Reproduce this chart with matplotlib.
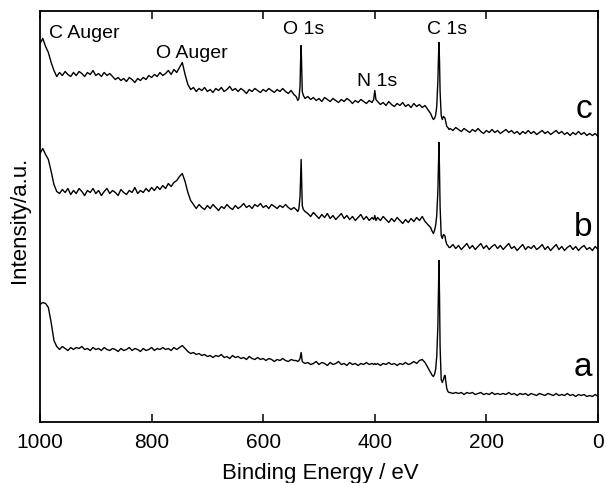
import numpy as np
import matplotlib.pyplot as plt

plt.rcParams['font.family'] = ['Liberation Sans', 'DejaVu Sans']

# binding energy grid (eV), finer around the O 1s, N 1s and C 1s lines
energy = np.concatenate([
    np.arange(1000, 544, -5),
    [541, 538, 536, 534, 533, 532, 531, 530, 528, 525],
    np.arange(520, 404, -5),
    [402, 400, 398],
    np.arange(395, 299, -5),
    [297, 295, 293, 291, 289, 287, 286, 285, 284, 283, 281, 279, 277, 275, 274, 273, 271, 269, 267],
    np.arange(265, -1, -5),
])

# intensities (a.u., already offset for stacking)
c_high = [378, 383, 375, 369, 359, 351, 345, 349, 346, 350, 347, 345, 349, 346, 350, 348,
          345, 349, 347, 351, 346, 348, 345, 349, 346, 348, 345, 342, 344, 341, 343, 340,
          344, 342, 339, 343, 341, 344, 342, 346, 344, 347, 345, 349, 346, 348, 351, 347,
          352, 349, 354, 359, 347, 337, 332, 334, 330, 333, 331, 334, 330, 332, 329, 333,
          331, 334, 330, 332, 335, 331, 333, 330, 333, 331, 328, 332, 330, 333, 331, 329,
          332, 330, 333, 331, 329, 332, 330, 333, 330, 328, 331, 327]
c_o1s = [325, 321, 323, 335, 360, 376, 352, 330, 326, 323]
c_mid = [325, 322, 324, 321, 323, 320, 324, 322, 320, 323, 321, 319, 322, 320, 323, 321,
         318, 321, 319, 322, 320, 318, 321, 319]
c_n1s = [322, 331, 322]
c_pre = [320, 317, 319, 316, 320, 317, 315, 318, 316, 319, 315, 317, 314, 318, 315, 317,
         314, 316, 312, 308]
c_c1s = [304, 302, 303, 306, 315, 340, 362, 379, 360, 330, 306, 302, 305, 304, 303, 300,
         295, 294, 292]
c_low = [293, 291, 294, 292, 290, 293, 291, 289, 292, 290, 293, 290, 288, 291, 289, 292,
         289, 291, 288, 290, 292, 289, 291, 288, 290, 287, 290, 288, 291, 288, 290, 287,
         289, 291, 288, 290, 287, 289, 291, 288, 290, 287, 289, 286, 289, 287, 290, 287,
         289, 286, 288, 286, 288, 285]

b_high = [268, 273, 267, 262, 250, 237, 230, 228, 232, 229, 233, 227, 231, 228, 233, 230,
          226, 231, 229, 233, 228, 231, 226, 230, 233, 228, 231, 229, 226, 232, 229, 227,
          231, 229, 234, 228, 231, 229, 233, 230, 234, 231, 235, 232, 236, 233, 238, 235,
          239, 241, 245, 248, 240, 229, 221, 217, 213, 217, 214, 212, 216, 213, 217, 214,
          211, 215, 213, 217, 214, 212, 216, 213, 215, 218, 214, 216, 213, 217, 215, 218,
          214, 216, 213, 217, 215, 213, 216, 214, 217, 214, 212, 214]
b_o1s = [212, 210, 213, 225, 245, 262, 238, 216, 212, 210]
b_mid = [208, 205, 209, 206, 203, 207, 204, 208, 203, 206, 202, 205, 208, 203, 206, 202,
         205, 201, 204, 207, 202, 205, 201, 204]
b_n1s = [202, 206, 201]
b_pre = [204, 201, 205, 202, 199, 203, 200, 204, 201, 198, 202, 199, 203, 200, 204, 201,
         205, 200, 197, 194]
b_c1s = [190, 188, 191, 196, 206, 230, 255, 279, 250, 215, 186, 183, 187, 186, 185, 181,
         177, 176, 174]
b_low = [174, 177, 173, 176, 172, 175, 178, 173, 176, 172, 175, 178, 173, 176, 172, 175,
         177, 173, 176, 172, 175, 178, 173, 175, 171, 174, 177, 172, 175, 173, 176, 172,
         174, 177, 172, 175, 171, 174, 177, 172, 175, 171, 174, 176, 172, 175, 171, 174,
         176, 172, 174, 171, 175, 172]

a_high = [117, 119, 118, 114, 99, 81, 75, 72, 75, 73, 71, 74, 72, 74, 73, 75,
          72, 73, 71, 74, 72, 73, 71, 74, 72, 71, 73, 72, 70, 73, 71, 72,
          74, 71, 73, 72, 70, 73, 71, 72, 74, 71, 73, 72, 74, 72, 73, 71,
          74, 72, 74, 76, 73, 70, 68, 69, 67, 68, 66, 67, 65, 66, 64, 66,
          65, 67, 64, 65, 63, 66, 64, 65, 63, 64, 62, 65, 63, 62, 64, 62,
          63, 61, 63, 62, 60, 62, 61, 63, 61, 60, 62, 61]
a_o1s = [61, 60, 61, 63, 66, 69, 64, 60, 59, 58]
a_mid = [59, 57, 58, 60, 57, 59, 58, 56, 59, 57, 58, 60, 57, 58, 56, 59,
         57, 58, 56, 58, 57, 59, 57, 58]
a_n1s = [57, 58, 57]
a_pre = [58, 56, 58, 57, 59, 57, 58, 56, 58, 57, 59, 57, 58, 60, 58, 61,
         62, 59, 54, 49]
a_c1s = [46, 45, 47, 52, 65, 95, 130, 161, 125, 75, 42, 39, 42, 46, 46, 41,
         33, 30, 29]
a_low = [29, 28, 29, 28, 29, 27, 29, 28, 29, 27, 28, 29, 27, 28, 27, 29,
         27, 28, 27, 28, 27, 29, 27, 28, 26, 28, 27, 28, 26, 28, 27, 26,
         28, 27, 26, 28, 27, 26, 28, 26, 27, 26, 28, 26, 27, 25, 27, 26,
         27, 25, 26, 25, 27, 25]

spec_a = np.concatenate([a_high, a_o1s, a_mid, a_n1s, a_pre, a_c1s, a_low])
spec_b = np.concatenate([b_high, b_o1s, b_mid, b_n1s, b_pre, b_c1s, b_low])
spec_c = np.concatenate([c_high, c_o1s, c_mid, c_n1s, c_pre, c_c1s, c_low])

peak_labels = ["C Auger", "O Auger", "O 1s", "N 1s", "C 1s"]
peak_x = [984, 728, 527, 396, 271]
peak_y = [383, 364, 388, 336, 388]
peak_ha = ["left", "center", "center", "center", "center"]

fig = plt.figure(figsize=(6.06, 4.83), dpi=100)
ax = fig.add_axes([40/606, 1-421.5/483, 558/606, 410.5/483])

for spec in (spec_a, spec_b, spec_c):
    ax.plot(energy, spec, color='black', lw=1.0)

for lab, x, y, ha in zip(peak_labels, peak_x, peak_y, peak_ha):
    ax.text(x, y, lab, ha=ha, va='baseline', fontsize=14)

ax.text(10, 304, "c", ha='right', va='baseline', fontsize=24)
ax.text(10, 186, "b", ha='right', va='baseline', fontsize=24)
ax.text(10, 46, "a", ha='right', va='baseline', fontsize=24)

ax.set_xlim(1000, 0)
ax.set_ylim(0, 410.5)
ax.set_xticks([1000, 800, 600, 400, 200, 0])
ax.set_yticks([])
ax.tick_params(axis='x', direction='in', top=True, length=5.5, width=1.1,
               labelsize=15, pad=8)
for s in ax.spines.values():
    s.set_linewidth(1.3)

fig.text(320/606, 1-479/483, "Binding Energy / eV", ha='center', va='baseline', fontsize=16)
fig.text(20/606, 1-220/483, "Intensity/a.u.", ha='center', va='center',
         rotation=90, fontsize=16)

fig.savefig("out.png", dpi=100)
